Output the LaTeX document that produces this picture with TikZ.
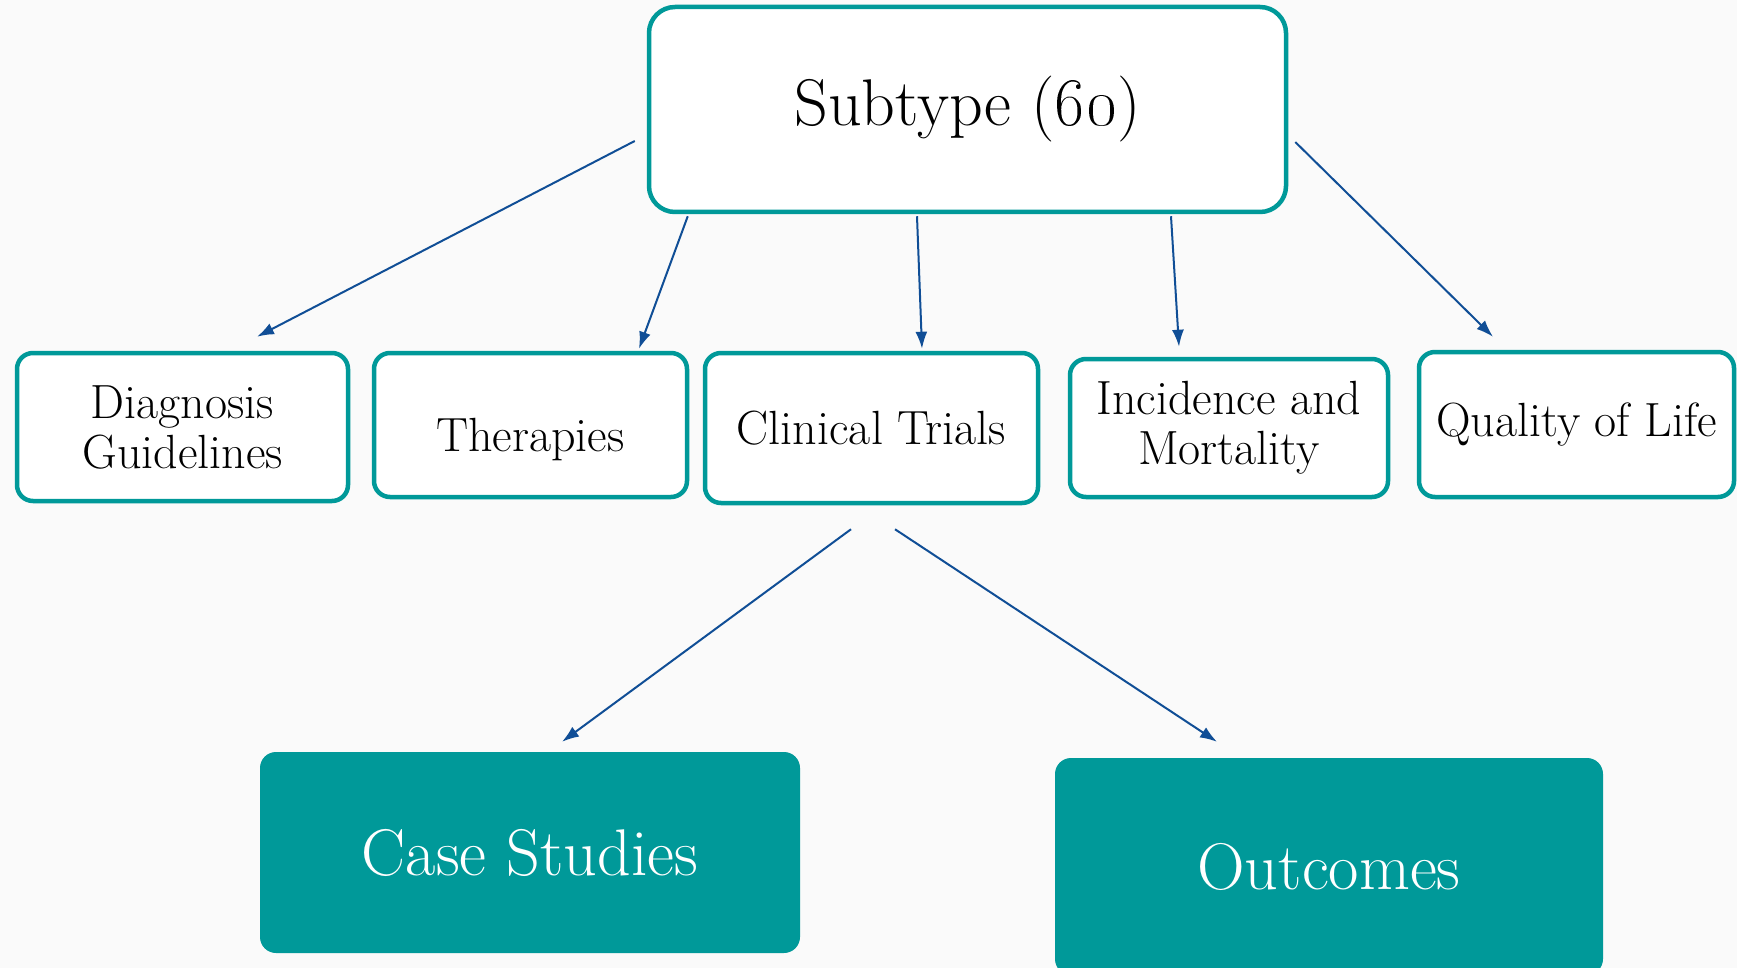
\documentclass[tikz,border=0pt]{standalone}
\usepackage{graphicx}
\usepackage{tikz}
\usetikzlibrary{arrows.meta}
\definecolor{tealbox}{RGB}{0,153,153}
\definecolor{arrblue}{RGB}{16,78,150}
\definecolor{bgpaper}{RGB}{250,250,250}
\tikzset{
  topbox/.style={draw=tealbox, fill=white, line width=4.5pt, rounded corners=26pt, inner sep=4pt, font=\fontsize{66}{72}\selectfont},
  subbox/.style={draw=tealbox, fill=white, line width=4.5pt, rounded corners=16pt, inner sep=1pt, align=center, font=\fontsize{48}{50}\selectfont},
  leafbox/.style={fill=tealbox, text=white, rounded corners=16pt, inner sep=4pt, font=\fontsize{66}{72}\selectfont},
  arr/.style={-{Latex[length=17pt,width=12pt]}, draw=arrblue, line width=2pt},
}
\newcommand{\bignum}[1]{\scalebox{2.75}{\fontsize{24.88}{24.88}\selectfont\oldstylenums{#1}}}
\begin{document}
\begin{tikzpicture}[x=1pt, y=-1pt]

  \useasboundingbox (0,0) rectangle (1737,968);
  \fill[bgpaper] (0,0) rectangle (1737,968);

  \node[topbox, minimum width=637pt, minimum height=205pt] (sub) at (967.5,109.5) {Subtype (\bignum{60})};

  \node[subbox, minimum width=331pt, minimum height=148pt] (diag) at (182.5,427) {Diagnosis\\Guidelines};
  \node[subbox, minimum width=313pt, minimum height=144pt] (ther) at (530.5,425) {\raisebox{-15pt}[\height][\depth]{Therapies}};
  \node[subbox, minimum width=333pt, minimum height=150pt] (clin) at (871.5,428) {Clinical Trials};
  \node[subbox, minimum width=318pt, minimum height=138pt] (inc) at (1229,428) {Incidence and\\Mortality};
  \node[subbox, minimum width=315pt, minimum height=145pt] (qual) at (1576.5,424.5) {Quality of Life};

  \node[leafbox, minimum width=540pt, minimum height=201pt] (case) at (530,852.5) {Case Studies};
  \node[leafbox, minimum width=548pt, minimum height=217pt] (out) at (1329,866.5) {Outcomes};

  \draw[arr] ([xshift=-12pt,yshift=-31.5pt]sub.west) -- ([xshift=74.5pt,yshift=14pt]diag.north); % S->D
  \draw[arr] ([xshift=41pt,yshift=-2pt]sub.south west) -- ([xshift=108.5pt,yshift=2pt]ther.north); % S->T
  \draw[arr] ([xshift=-50.5pt,yshift=-2pt]sub.south) -- ([xshift=50.5pt,yshift=2pt]clin.north); % S->C
  \draw[arr] ([xshift=203.5pt,yshift=-2pt]sub.south) -- ([xshift=-50pt,yshift=10pt]inc.north); % S->I
  \draw[arr] ([xshift=7pt,yshift=-32.5pt]sub.east) -- ([xshift=-83.5pt,yshift=13pt]qual.north); % S->Q

  \draw[arr] ([xshift=-20.5pt,yshift=-24pt]clin.south) -- ([xshift=32pt,yshift=10pt]case.north); % C->CS
  \draw[arr] ([xshift=23.5pt,yshift=-24pt]clin.south) -- ([xshift=-112pt,yshift=16pt]out.north); % C->O

\end{tikzpicture}
\end{document}
